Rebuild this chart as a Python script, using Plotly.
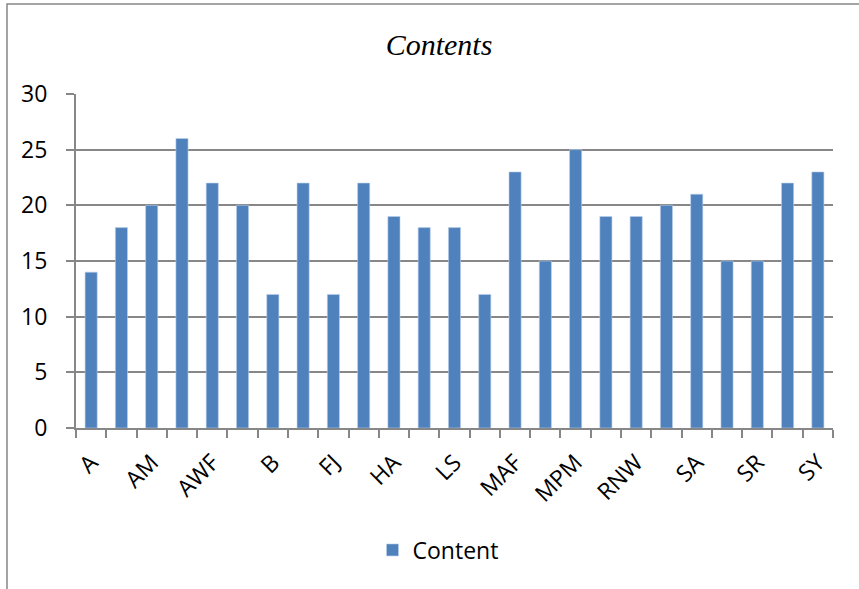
import plotly.graph_objects as go

# Category codes (only every other code is printed on the axis)
categories = ["A", "AB", "AM", "AS", "AWF", "AZ", "B", "F", "FJ", "H",
              "HA", "K", "LS", "M", "MAF", "MK", "MPM", "R", "RNW", "S",
              "SA", "SH", "SR", "SS", "SY"]
content = [14, 18, 20, 26, 22, 20, 12, 22, 12, 22,
           19, 18, 18, 12, 23, 15, 25, 19, 19, 20,
           21, 15, 15, 22, 23]
tick_labels = [c if i % 2 == 0 else "" for i, c in enumerate(categories)]

BAR = "#4F81BD"
GRID = "#878787"
FONT = "Open Sans, Liberation Sans, sans-serif"

fig = go.Figure(
    go.Bar(
        x=categories,
        y=content,
        name="Content",
        marker=dict(color=BAR, line=dict(color="#BCD0EA", width=0.6)),
        width=0.4,
    )
)

W, H = 859, 589
L, R, T, B = 76, 26, 94, 161
pw, ph = W - L - R, H - T - B

def px_x(p):
    return (p - L) / pw

def px_y(p):
    return (H - B - p) / ph

fig.update_layout(
    width=W,
    height=H,
    margin=dict(l=L, r=R, t=T, b=B),
    paper_bgcolor="white",
    plot_bgcolor="white",
    title=dict(
        text="<i>Contents</i>",
        font=dict(family="Liberation Serif, Times New Roman, serif", size=30, color="black"),
        x=px_x(439), xanchor="center", xref="paper",
        y=1 - 44 / H, yanchor="middle",
    ),
    showlegend=True,
    legend=dict(
        orientation="h",
        x=px_x(438), xanchor="center",
        y=px_y(550), yanchor="middle",
        font=dict(family=FONT, size=23, color="black"),
        itemwidth=30,
        bgcolor="rgba(0,0,0,0)",
    ),
    xaxis=dict(
        type="category",
        tickmode="array",
        tickvals=categories,
        ticktext=tick_labels,
        tickangle=-45,
        tickson="boundaries",
        ticks="outside",
        ticklen=8,
        tickwidth=1.5,
        tickcolor=GRID,
        ticklabelstandoff=10,
        showline=True,
        linecolor=GRID,
        linewidth=2,
        showgrid=False,
        tickfont=dict(family=FONT, size=23, color="black"),
        range=[-0.5, len(categories) - 0.5],
    ),
    yaxis=dict(
        range=[0, 30],
        tickvals=[0, 5, 10, 15, 20, 25, 30],
        ticks="outside",
        ticklen=8,
        tickwidth=1.5,
        tickcolor=GRID,
        ticklabelstandoff=14,
        showline=True,
        linecolor=GRID,
        linewidth=2,
        showgrid=True,
        gridcolor=GRID,
        gridwidth=1.5,
        zeroline=False,
        tickfont=dict(family=FONT, size=23, color="black"),
    ),
)

# Chart frame (left and top edges run inside the page; right/bottom lie off-page)
fig.add_shape(
    type="rect", xref="paper", yref="paper",
    x0=px_x(7), x1=px_x(W + 10), y0=px_y(H + 10), y1=px_y(4),
    line=dict(color=GRID, width=1.5), fillcolor="rgba(0,0,0,0)", layer="below",
)

fig.write_html("out.html")
